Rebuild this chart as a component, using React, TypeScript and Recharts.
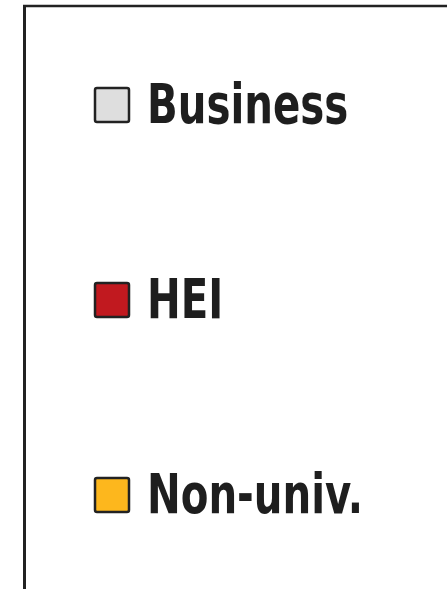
import { BarChart, Bar, Legend } from "recharts";

const seriesKeys = ["business", "hei", "nonUniv"];
const seriesNames = ["Business", "HEI", "Non-univ."];
const seriesColors = ["#dedede", "#c1191f", "#fdb71d"];

// the reference shows only the legend box, no plotted values
const data: Record<string, number>[] = [];

const LegendBox = ({ payload }: any) => {
    const items = payload || [];
    return (
        <svg width={447} height={589} style={{ display: "block" }}>
            <line x1={24.5} y1={5} x2={24.5} y2={600} stroke="#222" strokeWidth={3} />
            <line x1={23} y1={6} x2={460} y2={6} stroke="#222" strokeWidth={2.5} />
            {items.map((entry: any, i: number) => (
                <g key={entry.value}>
                    <rect
                        x={95}
                        y={88 + i * 195}
                        width={34}
                        height={34}
                        rx={2}
                        fill={entry.color}
                        stroke="#222"
                        strokeWidth={2.5}
                    />
                    {/* original font is a condensed bold face, squeeze the fallback */}
                    <g transform={`translate(147, ${123 + i * 195}) scale(0.8, 1)`}>
                        <text
                            x={0}
                            y={0}
                            fontFamily='"Liberation Sans Narrow", "DejaVu Sans Condensed", sans-serif'
                            fontWeight="bold"
                            fontSize={56}
                            fill="#1e1e1e"
                        >
                            {entry.value}
                        </text>
                    </g>
                </g>
            ))}
        </svg>
    );
};

const App = () => {
    return (
        <div style={{ position: "absolute", top: 0, left: 0, width: 447, height: 589, overflow: "hidden", background: "#fff" }}>
            <BarChart width={447} height={589} data={data} margin={{ top: 0, right: 0, bottom: 0, left: 0 }}>
                {seriesKeys.map((key, i) => (
                    <Bar
                        key={key}
                        dataKey={key}
                        name={seriesNames[i]}
                        fill={seriesColors[i]}
                        isAnimationActive={false}
                    />
                ))}
                <Legend
                    content={<LegendBox />}
                    wrapperStyle={{ position: "absolute", top: 0, left: 0, width: 447, height: 589 }}
                />
            </BarChart>
        </div>
    );
};

export default App;
